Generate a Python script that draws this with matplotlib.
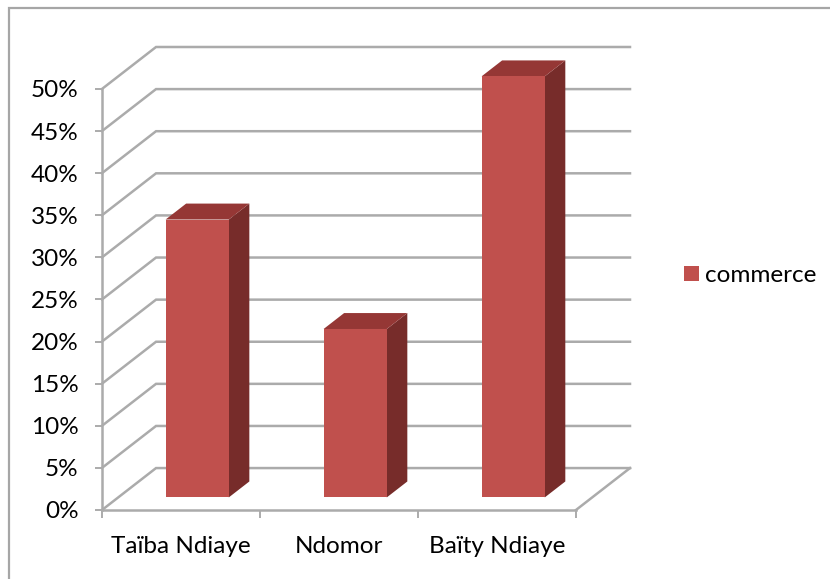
import matplotlib
matplotlib.use("Agg")
import matplotlib.pyplot as plt
from matplotlib.patches import Polygon, Patch, Rectangle

plt.rcParams['font.family'] = ['Lato', 'DejaVu Sans']

# Data
categories = ["Taïba Ndiaye", "Ndomor", "Baïty Ndiaye"]
commerce = [33, 20, 50]
grid_levels = [0, 5, 10, 15, 20, 25, 30, 35, 40, 45, 50]
series_name = "commerce"

# Colours
front_col = "#C0504D"
top_col = "#953735"
side_col = "#772C2A"
grid_col = "#ABABAB"
border_col = "#A6A6A6"

W, H = 830, 579
font_size = 17.5

# oblique 3D look: one unit of depth shifts a point right and up
depth_x = 0.342
depth_y = 4.98
bar_width = 0.40
bar_depth = (0.30, 0.68)


def project(x, y, d):
    return (x + d * depth_x, y + d * depth_y)


fig = plt.figure(figsize=(W / 100, H / 100), dpi=100)
fig.patch.set_facecolor("white")

# outer chart border, runs off the picture on the right and bottom
fig.add_artist(Rectangle((9 / W, -0.1), 1.1, 1.1 - 8 / H, transform=fig.transFigure,
                         fill=False, edgecolor=border_col, linewidth=1.6))

ax = fig.add_axes([102 / W, (H - 510) / H, 528 / W, 463 / H])
ax.set_xlim(0, 3 + depth_x)
ax.set_ylim(0, 50 + depth_y)
ax.patch.set_alpha(0)

n = len(categories)

# back wall and side wall gridlines
for level in grid_levels:
    x0, y0 = project(0, level, 0)
    x1, y1 = project(0, level, 1)
    x2, y2 = project(n, level, 1)
    ax.plot([x0, x1, x2], [y0, y1, y2], color=grid_col, linewidth=1.8,
            solid_joinstyle="miter", zorder=1, clip_on=False)

# floor edge on the right
x0, y0 = project(n, 0, 0)
x1, y1 = project(n, 0, 1)
ax.plot([x0, x1], [y0, y1], color=grid_col, linewidth=1.8, zorder=1, clip_on=False)

# bars
for i, val in enumerate(commerce):
    left = i + 0.5 - bar_width / 2
    right = i + 0.5 + bar_width / 2
    d0, d1 = bar_depth
    front = [project(left, 0, d0), project(right, 0, d0), project(right, val, d0), project(left, val, d0)]
    side = [project(right, 0, d0), project(right, 0, d1), project(right, val, d1), project(right, val, d0)]
    top = [project(left, val, d0), project(right, val, d0), project(right, val, d1), project(left, val, d1)]
    ax.add_patch(Polygon(side, closed=True, facecolor=side_col, edgecolor="none", zorder=3))
    ax.add_patch(Polygon(top, closed=True, facecolor=top_col, edgecolor="none", zorder=3))
    ax.add_patch(Polygon(front, closed=True, facecolor=front_col, edgecolor="none", zorder=4))

# axes
for s in ["top", "right"]:
    ax.spines[s].set_visible(False)
ax.spines["left"].set_bounds(0, 50)
ax.spines["bottom"].set_bounds(0, n)
for s in ["left", "bottom"]:
    ax.spines[s].set_color(grid_col)
    ax.spines[s].set_linewidth(1.8)

ax.set_yticks(grid_levels)
ax.set_yticklabels([f"{v}%" for v in grid_levels])
ax.tick_params(axis="y", length=5, width=1.4, color=grid_col, pad=12, labelsize=font_size, labelcolor="black")

ax.set_xticks(range(n + 1))
ax.set_xticklabels([])
ax.set_xticks([i + 0.5 for i in range(n)], minor=True)
ax.set_xticklabels(categories, minor=True)
ax.tick_params(axis="x", which="major", length=6, width=1.4, color=grid_col)
ax.tick_params(axis="x", which="minor", length=0, pad=18.5, labelsize=font_size, labelcolor="black")

# legend
leg = fig.legend(handles=[Patch(facecolor=front_col, edgecolor="none", label=series_name)],
                 loc="center left", bbox_to_anchor=(679 / W, (H - 275.5) / H), frameon=False,
                 fontsize=font_size, handlelength=0.62, handleheight=0.62, handletextpad=0.25,
                 borderpad=0.2, borderaxespad=0)

fig.savefig("out.png", dpi=100)
